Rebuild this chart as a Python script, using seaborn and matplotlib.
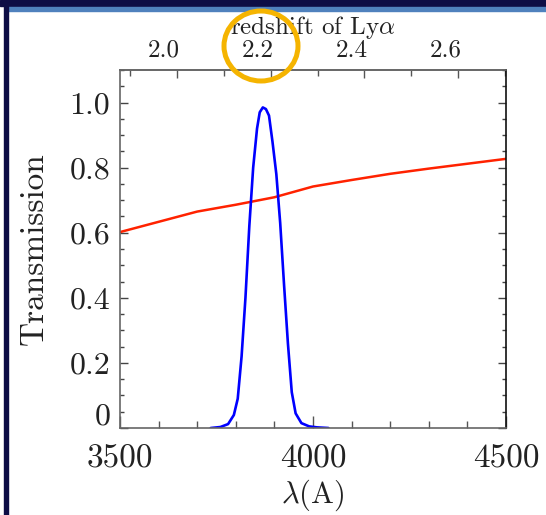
import numpy as np
import pandas as pd
import matplotlib
matplotlib.use("Agg")
import matplotlib.pyplot as plt
import seaborn as sns
from matplotlib.patches import Rectangle, Ellipse
from matplotlib.transforms import ScaledTranslation
from matplotlib.ticker import FixedLocator, MultipleLocator, FixedFormatter

# ---- data ----
filter_wave = [3735, 3760, 3780, 3795, 3805, 3815, 3825, 3835, 3845, 3855, 3862,
               3870, 3878, 3886, 3895, 3905, 3915, 3925, 3935, 3945, 3955, 3970,
               3990, 4010, 4040]
filter_trans = [0.0, 0.003, 0.012, 0.04, 0.09, 0.22, 0.40, 0.62, 0.80, 0.92, 0.97,
                0.985, 0.98, 0.96, 0.88, 0.78, 0.63, 0.44, 0.26, 0.11, 0.045, 0.015,
                0.005, 0.002, 0.0]
atm_wave = [3500, 3700, 3800, 3900, 4000, 4100, 4200, 4300, 4400, 4500]
atm_trans = [0.602, 0.665, 0.686, 0.709, 0.742, 0.762, 0.781, 0.797, 0.812, 0.827]

x_ticks = [3500, 4000, 4500]
x_tick_labels = ["3500", "4000", "4500"]
y_ticks = [0.0, 0.2, 0.4, 0.6, 0.8, 1.0]
y_tick_labels = ["0", "0.2", "0.4", "0.6", "0.8", "1.0"]
z_ticks = [2.0, 2.2, 2.4, 2.6]
z_tick_labels = ["2.0", "2.2", "2.4", "2.6"]
LYA = 1215.67

sns.set_theme(style="white")
plt.rcParams["font.family"] = ["cmr10", "DejaVu Serif"]
plt.rcParams["mathtext.fontset"] = "cm"
plt.rcParams["axes.formatter.use_mathtext"] = True

W, H = 546, 515
fig = plt.figure(figsize=(W / 100, H / 100), dpi=100)
fig.patch.set_facecolor("white")

# slide decorations
navy = "#0d0d45"
fig.patches.append(Rectangle((0, 1 - 6 / H), 1, 6 / H, color=navy,
                             transform=fig.transFigure, zorder=0))
fig.patches.append(Rectangle((7 / W, 1 - 10.5 / H), 1, 3.5 / H, color="#4f81bd",
                             transform=fig.transFigure, zorder=0))
fig.patches.append(Rectangle((4 / W, 0), 3.5 / W, 1, color=navy,
                             transform=fig.transFigure, zorder=0))

ax = fig.add_axes([120 / W, 87 / H, 386 / W, 358 / H])

df_f = pd.DataFrame({"wave": filter_wave, "trans": filter_trans})
df_a = pd.DataFrame({"wave": atm_wave, "trans": atm_trans})
sns.lineplot(data=df_a, x="wave", y="trans", ax=ax, color="#ff2200", lw=1.8,
             estimator=None, sort=False)
sns.lineplot(data=df_f, x="wave", y="trans", ax=ax, color="#0000ff", lw=1.9,
             estimator=None, sort=False)

ax.set_xlim(3500, 4500)
ax.set_ylim(0, 1.1)
ax.xaxis.set_major_locator(FixedLocator(x_ticks))
ax.xaxis.set_major_formatter(FixedFormatter(x_tick_labels))
ax.xaxis.set_minor_locator(MultipleLocator(100))
ax.yaxis.set_major_locator(FixedLocator(y_ticks))
ax.yaxis.set_major_formatter(FixedFormatter(y_tick_labels))
ax.yaxis.set_minor_locator(MultipleLocator(0.05))

tcol = "#222222"
ax.tick_params(axis="x", which="major", direction="in", length=9, width=1,
               bottom=True, top=False, labelsize=24, pad=12, colors="#555555",
               labelcolor=tcol)
ax.tick_params(axis="x", which="minor", direction="in", length=5, width=1,
               bottom=True, top=False, colors="#555555")
ax.tick_params(axis="y", which="major", direction="in", length=6, width=1,
               left=True, right=True, labelsize=23, pad=7, colors="#444444",
               labelcolor=tcol)
ax.tick_params(axis="y", which="minor", direction="in", length=3, width=1,
               left=True, right=True, colors="#444444")

for s in ["left", "bottom", "top"]:
    ax.spines[s].set_color("#666666")
    ax.spines[s].set_linewidth(1.2)
ax.spines["right"].set_color("#111111")
ax.spines["right"].set_linewidth(1.2)

ax.set_xlabel(r"$\lambda$(A)", fontsize=22, color=tcol, labelpad=3)
ax.set_ylabel("Transmission", fontsize=24, color=tcol, labelpad=15)

secax = ax.secondary_xaxis("top", functions=(lambda w: w / LYA - 1,
                                             lambda z: (z + 1) * LYA))
secax.xaxis.set_major_locator(FixedLocator(z_ticks))
secax.xaxis.set_major_formatter(FixedFormatter(z_tick_labels))
secax.xaxis.set_minor_locator(MultipleLocator(0.1))
secax.tick_params(axis="x", which="major", direction="in", length=6, width=1,
                  labelsize=18, pad=6, colors="#555555", labelcolor=tcol)
secax.tick_params(axis="x", which="minor", direction="in", length=4, width=1,
                  colors="#555555")
secax.spines["top"].set_color("#666666")
secax.spines["top"].set_linewidth(1.2)
secax.set_xlabel(r"redshift of Ly$\alpha$", fontsize=18, color=tcol, labelpad=4)

fig.canvas.draw()
shift = ScaledTranslation(-13 / 100, 0, fig.dpi_scale_trans)
for lbl in secax.get_xticklabels():
    lbl.set_transform(lbl.get_transform() + shift)
zero = ax.get_yticklabels()[0]
zero.set_transform(zero.get_transform() + ScaledTranslation(0, 14 / 100, fig.dpi_scale_trans))

# highlight circle around the 2.2 label
fig.patches.append(Ellipse((261 / W, 1 - 46 / H), 74 / W, 70 / H, fill=False,
                           edgecolor="#f5b400", lw=3.6, transform=fig.transFigure,
                           zorder=5))

fig.savefig("out.png", dpi=100)
